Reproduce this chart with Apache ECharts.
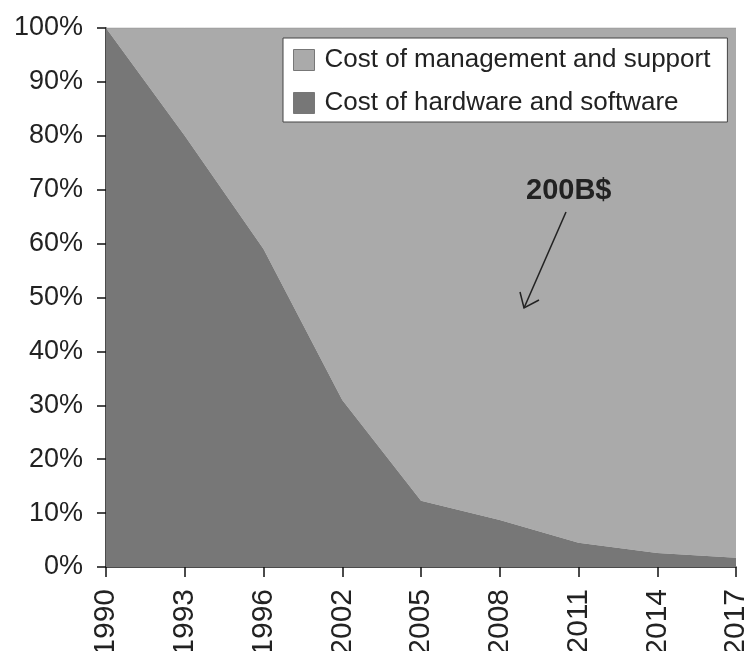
<!DOCTYPE html>
<html>
<head>
<meta charset="utf-8">
<script src="https://cdn.jsdelivr.net/npm/echarts@6/dist/echarts.min.js"></script>
<style>html,body{margin:0;padding:0;background:#fff;}#c{width:752px;height:651px;}</style>
</head>
<body>
<div id="c"></div>
<script>
const years = ['1990','1993','1996','2002','2005','2008','2011','2014','2017'];
const hardwareShare = [100, 80, 59, 31, 12.3, 8.7, 4.5, 2.6, 1.7];
const managementShare = [0, 20, 41, 69, 87.7, 91.3, 95.5, 97.4, 98.3];
const yTicks = [0,10,20,30,40,50,60,70,80,90,100];
const seriesNames = ['Cost of management and support', 'Cost of hardware and software'];
const annotationText = '200B$';

const chart = echarts.init(document.getElementById('c'));
const font = 'Liberation Sans, Arial, sans-serif';
chart.setOption({
  backgroundColor: '#fff',
  animation: false,
  grid: {left: 106, right: 16, top: 28, bottom: 84, containLabel: false, outerBoundsMode: 'none'},
  legend: {
    orient: 'vertical',
    left: 283, top: 38,
    padding: [9, 17, 6, 10],
    backgroundColor: '#fff',
    borderColor: '#444',
    borderWidth: 1,
    itemWidth: 21, itemHeight: 21,
    itemGap: 17,
    icon: 'rect',
    textStyle: {fontFamily: font, fontSize: 26, color: '#222', lineHeight: 21, padding: [0,0,0,5]},
    data: [
      {name: seriesNames[0], itemStyle: {color: '#aaaaaa', borderColor: '#777', borderWidth: 1}},
      {name: seriesNames[1], itemStyle: {color: '#777777', borderColor: '#777', borderWidth: 1}}
    ]
  },
  xAxis: {
    type: 'category',
    data: years,
    boundaryGap: false,
    axisLine: {lineStyle: {color: '#111', width: 1.5}},
    axisTick: {length: 10, lineStyle: {color: '#111', width: 1.5}},
    axisLabel: {rotate: 90, margin: 22, fontFamily: font, fontSize: 30, color: '#222'}
  },
  yAxis: {
    type: 'value',
    min: 0, max: 100, interval: 10,
    axisLine: {show: true, lineStyle: {color: '#111', width: 1.5}},
    axisTick: {show: true, length: 9, lineStyle: {color: '#111', width: 1.5}},
    splitLine: {show: false},
    axisLabel: {margin: 23, fontFamily: font, fontSize: 27, color: '#222',
      formatter: v => yTicks.includes(v) ? v + '%' : ''}
  },
  series: [
    {
      name: seriesNames[1], type: 'line', stack: 'total', data: hardwareShare,
      symbol: 'none', lineStyle: {width: 0},
      areaStyle: {color: '#777777', opacity: 1}, itemStyle: {color: '#777777'}, z: 3
    },
    {
      name: seriesNames[0], type: 'line', stack: 'total', data: managementShare,
      symbol: 'none', lineStyle: {width: 1, color: '#999'},
      areaStyle: {color: '#aaaaaa', opacity: 1}, itemStyle: {color: '#aaaaaa'}, z: 2
    }
  ],
  graphic: [
    {type: 'text', left: 526, top: 176, z: 100,
      style: {text: annotationText, fontFamily: font, fontWeight: 'bold', fontSize: 29, fill: '#222'}},
    {type: 'line', z: 100, shape: {x1: 566, y1: 212, x2: 524, y2: 308}, style: {stroke: '#222', lineWidth: 1.5}},
    {type: 'polyline', z: 100, shape: {points: [[520, 292], [524, 308], [539, 300]]}, style: {stroke: '#222', lineWidth: 1.5, fill: null}}
  ]
});
</script>
</body>
</html>
